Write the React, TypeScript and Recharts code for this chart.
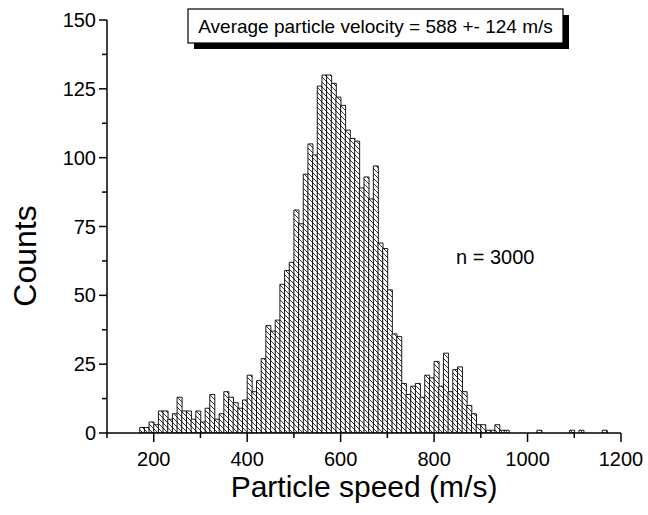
import React from "react";
import { ComposedChart, Bar, XAxis, YAxis, Label } from "recharts";

// histogram bins, 10 m/s wide, centres
const binCenters = [
  175, 185, 195, 205, 215, 225, 235, 245, 255, 265,
  275, 285, 295, 305, 315, 325, 335, 345, 355, 365,
  375, 385, 395, 405, 415, 425, 435, 445, 455, 465,
  475, 485, 495, 505, 515, 525, 535, 545, 555, 565,
  575, 585, 595, 605, 615, 625, 635, 645, 655, 665,
  675, 685, 695, 705, 715, 725, 735, 745, 755, 765,
  775, 785, 795, 805, 815, 825, 835, 845, 855, 865,
  875, 885, 895, 905, 915, 925, 935, 945, 955, 965,
  975, 985, 995, 1005, 1015, 1025, 1035, 1045, 1055, 1065,
  1075, 1085, 1095, 1105, 1115, 1125, 1135, 1145, 1155, 1165,
];

const counts = [
  2, 2, 4, 3, 8, 8, 5, 7, 13, 8,
  8, 5, 8, 4, 9, 14, 5, 7, 15, 13,
  11, 9, 12, 21, 15, 19, 27, 39, 37, 41,
  54, 59, 62, 81, 76, 94, 105, 101, 126, 130,
  130, 127, 122, 119, 110, 107, 106, 89, 93, 85,
  97, 69, 67, 52, 36, 35, 18, 14, 17, 18,
  13, 21, 20, 26, 17, 29, 15, 23, 24, 15,
  10, 7, 3, 3, 1, 1, 3, 1, 1, 0,
  0, 0, 0, 0, 0, 1, 0, 0, 0, 0,
  0, 0, 1, 0, 1, 0, 0, 0, 0, 1,
];

const xTicks = [100, 200, 300, 400, 500, 600, 700, 800, 900, 1000, 1100, 1200];
const xMajor = [200, 400, 600, 800, 1000, 1200];
const yTicks = [0, 12.5, 25, 37.5, 50, 62.5, 75, 87.5, 100, 112.5, 125, 137.5, 150];
const yMajor = [0, 25, 50, 75, 100, 125, 150];

const data = binCenters.map((center, i) => ({ center, count: counts[i] }));

const FONT = "'Liberation Sans', Arial, Helvetica, sans-serif";

const XTick = (props: any) => {
  const { x, y, payload } = props;
  const major = xMajor.includes(payload.value);
  return (
    <g>
      <line x1={x} y1={y} x2={x} y2={y + (major ? 9 : 5)} stroke="#000" strokeWidth={1.5} />
      {major && (
        <text x={x} y={y + 33} textAnchor="middle" fontSize={20} fontFamily={FONT} fill="#000">
          {payload.value}
        </text>
      )}
    </g>
  );
};

const YTick = (props: any) => {
  const { x, y, payload } = props;
  const major = yMajor.includes(payload.value);
  return (
    <g>
      <line x1={x} y1={y} x2={x - (major ? 8 : 5)} y2={y} stroke="#000" strokeWidth={1.5} />
      {major && (
        <text x={x - 11} y={y + 7} textAnchor="end" fontSize={20} fontFamily={FONT} fill="#000">
          {payload.value}
        </text>
      )}
    </g>
  );
};

export default function App() {
  return (
    <div style={{ position: "absolute", left: 0, top: 0, width: 648, height: 515, background: "#fff" }}>
      <svg width={0} height={0} style={{ position: "absolute" }}>
        <defs>
          <pattern id="hatch" patternUnits="userSpaceOnUse" width={5} height={5}>
            <rect width={5} height={5} fill="#fff" />
            <path d="M0,0 L5,5 M-1,4 L1,6 M4,-1 L6,1" stroke="#000" strokeWidth={0.8} />
          </pattern>
        </defs>
      </svg>
      <ComposedChart
        width={648}
        height={515}
        data={data}
        margin={{ top: 20, right: 27, bottom: 22, left: 0 }}
        barCategoryGap={0}
        barGap={0}
      >
        <XAxis
          type="number"
          dataKey="center"
          domain={[100, 1200]}
          ticks={xTicks}
          interval={0}
          tickSize={0}
          tickMargin={0}
          tick={(p: any) => <XTick {...p} />}
          axisLine={{ stroke: "#000", strokeWidth: 1.5 }}
          height={60}
          allowDataOverflow
        >
          <Label
            value="Particle speed (m/s)"
            position="insideBottom"
            offset={-4}
            style={{ fontSize: 30, fontFamily: FONT, fill: "#000" }}
          />
        </XAxis>
        <YAxis
          type="number"
          domain={[0, 150]}
          ticks={yTicks}
          interval={0}
          tickSize={0}
          tickMargin={0}
          tick={(p: any) => <YTick {...p} />}
          axisLine={{ stroke: "#000", strokeWidth: 1.5 }}
          width={107}
          allowDataOverflow
        />
        <Bar
          dataKey="count"
          fill="url(#hatch)"
          stroke="#000"
          strokeWidth={0.9}
          isAnimationActive={false}
        />
      </ComposedChart>
      <svg width={648} height={515} style={{ position: "absolute", left: 0, top: 0, pointerEvents: "none" }}>
        <text
          transform="translate(36,256) rotate(-90)"
          textAnchor="middle"
          fontSize={32}
          fontFamily={FONT}
          fill="#000"
        >
          Counts
        </text>
        <rect x={194} y={15} width={375} height={34} fill="#000" />
        <rect x={188} y={9} width={375} height={34} fill="#fff" stroke="#000" strokeWidth={1.2} />
        <text x={375.5} y={33} textAnchor="middle" fontSize={19} fontFamily={FONT} fill="#000">
          Average particle velocity = 588 +- 124 m/s
        </text>
        <text x={456} y={264} fontSize={20} fontFamily={FONT} fill="#000">
          n = 3000
        </text>
      </svg>
    </div>
  );
}
